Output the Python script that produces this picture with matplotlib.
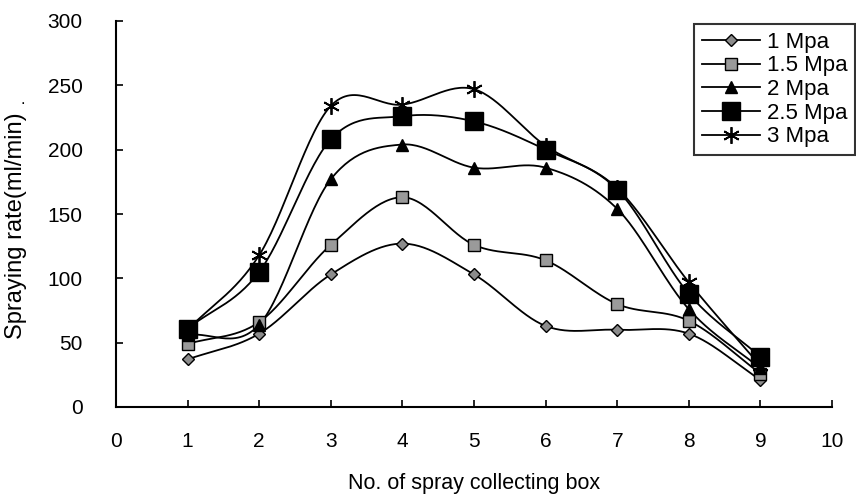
import numpy as np
import matplotlib
matplotlib.use("Agg")
import matplotlib.pyplot as plt
from matplotlib.lines import Line2D

plt.rcParams['font.family'] = ['Liberation Sans', 'DejaVu Sans']

boxes = [1, 2, 3, 4, 5, 6, 7, 8, 9]
labels = ["1 Mpa", "1.5 Mpa", "2 Mpa", "2.5 Mpa", "3 Mpa"]
rate_1 = [37, 57, 103, 127, 103, 63, 60, 57, 21]
rate_15 = [49, 66, 126, 163, 126, 114, 80, 67, 26]
rate_2 = [56, 64, 177, 204, 186, 186, 154, 76, 30]
rate_25 = [61, 105, 208, 226, 222, 200, 169, 88, 39]
rate_3 = [60, 118, 234, 235, 247, 203, 170, 97, 32]
series = [rate_1, rate_15, rate_2, rate_25, rate_3]

xticks = list(range(0, 11))
yticks = [0, 50, 100, 150, 200, 250, 300]

styles = [
    dict(marker='D', ms=6, mfc='#8c8c8c', mec='black', mew=1.0),
    dict(marker='s', ms=8, mfc='#9a9a9a', mec='black', mew=1.0),
    dict(marker='^', ms=9, mfc='black', mec='black', mew=1.0),
    dict(marker='s', ms=13, mfc='black', mec='black', mew=1.0),
    dict(marker=(6, 2, 0), ms=12, mfc='black', mec='black', mew=1.3),
]


def smooth(x, y, n=30):
    x = np.asarray(x, float)
    y = np.asarray(y, float)
    px = np.concatenate([[2 * x[0] - x[1]], x, [2 * x[-1] - x[-2]]])
    py = np.concatenate([[2 * y[0] - y[1]], y, [2 * y[-1] - y[-2]]])
    xs, ys = [], []
    t = np.linspace(0, 1, n, endpoint=False)
    for i in range(1, len(px) - 2):
        p0x, p1x, p2x, p3x = px[i - 1:i + 3]
        p0y, p1y, p2y, p3y = py[i - 1:i + 3]
        c1x, c1y = p1x + (p2x - p0x) / 6, p1y + (p2y - p0y) / 6
        c2x, c2y = p2x - (p3x - p1x) / 6, p2y - (p3y - p1y) / 6
        bx = (1 - t) ** 3 * p1x + 3 * (1 - t) ** 2 * t * c1x + 3 * (1 - t) * t ** 2 * c2x + t ** 3 * p2x
        by = (1 - t) ** 3 * p1y + 3 * (1 - t) ** 2 * t * c1y + 3 * (1 - t) * t ** 2 * c2y + t ** 3 * p2y
        xs.append(bx)
        ys.append(by)
    xs.append([x[-1]])
    ys.append([y[-1]])
    return np.concatenate(xs), np.concatenate(ys)


fig = plt.figure(figsize=(8.56, 4.96), dpi=100)
ax = fig.add_axes([116 / 856, 1 - 407 / 496, (832 - 116) / 856, (407 - 21) / 496])

handles = []
for vals, st, lab in zip(series, styles, labels):
    sx, sy = smooth(boxes, vals)
    ax.plot(sx, sy, color='black', lw=1.3, zorder=2)
    ax.plot(boxes, vals, ls='none', zorder=3, **st)
    handles.append(Line2D([0], [0], color='black', lw=1.3, label=lab, **st))

ax.set_xlim(0, 10)
ax.set_ylim(0, 300)
ax.set_xticks(xticks)
ax.set_yticks(yticks)
ax.set_xticklabels([str(v) for v in xticks])
ax.set_yticklabels([str(v) for v in yticks])
for s in ['top', 'right']:
    ax.spines[s].set_visible(False)
for s in ['left', 'bottom']:
    ax.spines[s].set_linewidth(1.5)
    ax.spines[s].set_color('black')
ax.tick_params(direction='in', length=5, width=1.2, labelsize=15, colors='black')
ax.tick_params(axis='x', pad=18)
ax.tick_params(axis='y', pad=24)

ax.set_xlabel('No. of spray collecting box', fontsize=15.5, labelpad=16)
ax.set_ylabel('Spraying rate(ml/min)', fontsize=17)
ax.yaxis.label.set_va('center')
ax.yaxis.set_label_coords((16 - 116) / 716, (407 - 226) / 386)
fig.text(23 / 856, 1 - 99 / 496, '.', fontsize=12, ha='center', va='center')

leg = fig.legend(handles=handles, loc='upper right',
                 bbox_to_anchor=(855 / 856, 1 - 24 / 496),
                 bbox_transform=fig.transFigure, frameon=True, fancybox=False,
                 fontsize=16, handlelength=2.6, handletextpad=0.3,
                 labelspacing=0.12, borderpad=0.35, borderaxespad=0)
leg.get_frame().set_edgecolor('black')
leg.get_frame().set_linewidth(1.5)

fig.savefig('out.png', dpi=100)
